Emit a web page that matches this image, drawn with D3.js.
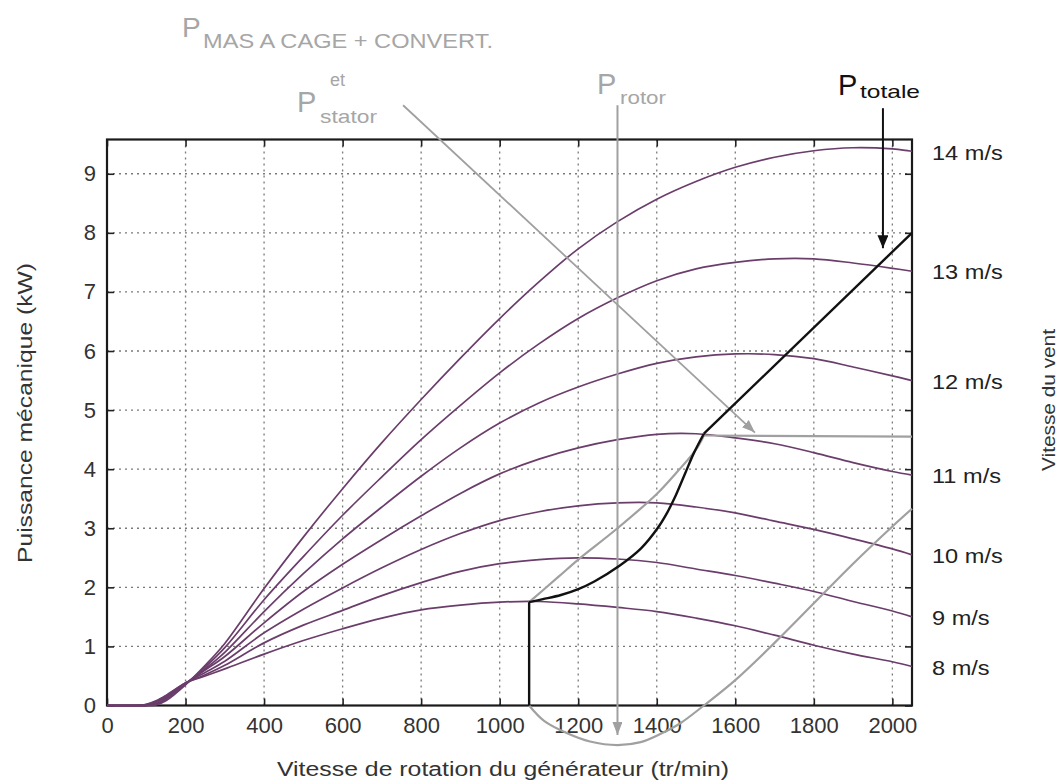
<!DOCTYPE html>
<html><head><meta charset="utf-8">
<script src="https://cdn.jsdelivr.net/npm/d3@7"></script>
<style>
body{margin:0;background:#fff}
svg{display:block}
text{font-family:"Liberation Sans",Arial,Helvetica,sans-serif}
</style>
</head><body>
<svg id="chart" width="1061" height="784"></svg>
<script>
// ---------- data ----------
const rpm = [0, 80, 100, 125, 150, 200, 250, 300, 400, 500, 600, 700, 800, 900, 1000, 1100, 1200, 1300, 1400, 1500, 1600, 1700, 1800, 1900, 2000, 2050];
const windLabels = ["8 m/s", "9 m/s", "10 m/s", "11 m/s", "12 m/s", "13 m/s", "14 m/s"];
const p8  = [0, 0, 0.02, 0.08, 0.17, 0.38, 0.50, 0.62, 0.87, 1.10, 1.30, 1.48, 1.62, 1.70, 1.75, 1.76, 1.72, 1.66, 1.59, 1.48, 1.35, 1.19, 1.02, 0.87, 0.74, 0.66];
const p9  = [0, 0, 0.015, 0.07, 0.16, 0.38, 0.52, 0.68, 1.06, 1.36, 1.61, 1.86, 2.08, 2.27, 2.40, 2.47, 2.50, 2.48, 2.42, 2.31, 2.20, 2.07, 1.93, 1.76, 1.60, 1.50];
const p10 = [0, 0, 0.01, 0.06, 0.15, 0.38, 0.56, 0.75, 1.23, 1.63, 1.99, 2.33, 2.64, 2.91, 3.13, 3.28, 3.38, 3.43, 3.43, 3.36, 3.26, 3.12, 2.98, 2.82, 2.65, 2.55];
const p11 = [0, 0, 0, 0.05, 0.14, 0.37, 0.60, 0.83, 1.40, 1.93, 2.39, 2.81, 3.21, 3.59, 3.92, 4.17, 4.36, 4.50, 4.59, 4.60, 4.53, 4.43, 4.28, 4.11, 3.96, 3.90];
const p12 = [0, 0, 0, 0.03, 0.12, 0.37, 0.62, 0.90, 1.59, 2.23, 2.82, 3.36, 3.88, 4.36, 4.78, 5.12, 5.39, 5.61, 5.79, 5.90, 5.95, 5.94, 5.87, 5.73, 5.58, 5.50];
const p13 = [0, 0, 0, 0.02, 0.10, 0.36, 0.65, 0.98, 1.79, 2.52, 3.22, 3.87, 4.50, 5.08, 5.63, 6.12, 6.55, 6.90, 7.19, 7.39, 7.50, 7.56, 7.56, 7.49, 7.40, 7.35];
const p14 = [0, 0, 0, 0.01, 0.08, 0.35, 0.68, 1.05, 1.98, 2.85, 3.67, 4.45, 5.18, 5.88, 6.55, 7.17, 7.73, 8.19, 8.57, 8.87, 9.11, 9.28, 9.39, 9.44, 9.42, 9.38];
const seriesP = [p8, p9, p10, p11, p12, p13, p14];

// P totale: vertical part, curved part, straight part
const pTotaleVert  = [[1075, 0], [1075, 1.75]];
const pTotaleCurve = [[1075, 1.75], [1110, 1.80], [1156, 1.87], [1200, 1.97], [1241, 2.10], [1306, 2.37], [1360, 2.66], [1402, 3.00], [1427, 3.27], [1448, 3.55], [1473, 3.94], [1495, 4.28], [1520, 4.60]];
const pTotaleLine  = [[1520, 4.60], [2050, 8.00]];
// P stator (and MAS a cage + convert.)
const pStatorCurve = [[1075, 1.75], [1150, 2.18], [1200, 2.47], [1300, 3.00], [1400, 3.58], [1450, 3.94], [1500, 4.33], [1520, 4.57]];
const pStatorFlat  = [[1520, 4.57], [2050, 4.55]];
// P rotor
const pRotor = [[1075, 0], [1113, -0.26], [1172, -0.47], [1230, -0.61], [1300, -0.67], [1359, -0.62], [1410, -0.48], [1460, -0.30], [1520, 0], [1600, 0.43], [1700, 1.06], [1800, 1.73], [1900, 2.40], [2000, 3.03], [2050, 3.33]];
// annotation arrows (data units)
const arrowRotor  = [[1300, 10.16], [1300, -0.50]];
const arrowStator = [[754, 10.16], [1650, 4.62]];
const arrowTotale = [[1976, 10.11], [1976, 7.74]];

const xTicks = [0, 200, 400, 600, 800, 1000, 1200, 1400, 1600, 1800, 2000];
const yTicks = [0, 1, 2, 3, 4, 5, 6, 7, 8, 9];
const xDomain = [0, 2050];
const yDomain = [0, 9.58];

// ---------- layout ----------
const L = 107, R = 912, T = 139.5, B = 705.5;
const svg = d3.select("#chart");
const x = d3.scaleLinear(xDomain, [L, R]);
const y = d3.scaleLinear(yDomain, [B, T]);

const purple = "#6b3d6b", gray = "#a0a0a0", grayText = "#a6a6a6", ink = "#111";

// arrow markers
const defs = svg.append("defs");
function marker(id, color, len, wid) {
  defs.append("marker").attr("id", id)
    .attr("viewBox", `0 0 ${len} ${wid}`).attr("refX", len).attr("refY", wid / 2)
    .attr("markerWidth", len).attr("markerHeight", wid)
    .attr("markerUnits", "userSpaceOnUse").attr("orient", "auto")
    .append("path").attr("d", `M0,0L${len},${wid / 2}L0,${wid}Z`).attr("fill", color);
}
marker("ahGray", gray, 13, 10);
marker("ahBlack", ink, 13, 11);

// grid
const grid = svg.append("g").attr("stroke", "#7a7a7a").attr("stroke-width", 1.3).attr("stroke-dasharray", "2,4");
grid.selectAll(".gx").data(xTicks.filter(d => d > 0)).join("line")
  .attr("x1", d => x(d)).attr("x2", d => x(d)).attr("y1", y(yDomain[0])).attr("y2", y(yDomain[1]));
grid.selectAll(".gy").data(yTicks.filter(d => d > 0)).join("line")
  .attr("y1", d => y(d)).attr("y2", d => y(d)).attr("x1", x(xDomain[0])).attr("x2", x(xDomain[1]));

// axes (ticks inside, mirrored like gnuplot)
function styleAxis(g) {
  g.select(".domain").remove();
  g.selectAll(".tick line").attr("stroke", "#222").attr("stroke-width", 1.6);
  g.selectAll(".tick text").attr("fill", "#333").style("font-size", "22px")
    .style("font-family", '"Liberation Sans",Arial,sans-serif');
}
svg.append("g").attr("transform", `translate(0,${B})`)
  .call(d3.axisBottom(x).tickValues(xTicks).tickSizeInner(-7).tickSizeOuter(0).tickPadding(12).tickFormat(d3.format("d")))
  .call(styleAxis);
svg.append("g").attr("transform", `translate(0,${T})`)
  .call(d3.axisTop(x).tickValues(xTicks).tickSizeInner(-7).tickSizeOuter(0).tickFormat(""))
  .call(styleAxis);
svg.append("g").attr("transform", `translate(${L},0)`)
  .call(d3.axisLeft(y).tickValues(yTicks).tickSizeInner(-7).tickSizeOuter(0).tickPadding(11).tickFormat(d3.format("d")))
  .call(styleAxis);
svg.append("g").attr("transform", `translate(${R},0)`)
  .call(d3.axisRight(y).tickValues(yTicks).tickSizeInner(-7).tickSizeOuter(0).tickFormat(""))
  .call(styleAxis);

// frame
svg.append("rect").attr("x", L).attr("y", T).attr("width", R - L).attr("height", B - T)
  .attr("fill", "none").attr("stroke", "#1a1a1a").attr("stroke-width", 2.2);

// wind power curves
const curveLine = d3.line().x((d, i) => x(rpm[i])).y(d => y(Math.max(0, d))).curve(d3.curveCatmullRom.alpha(0.5));
svg.append("g").selectAll("path").data(seriesP).join("path")
  .attr("d", d => curveLine(d)).attr("fill", "none").attr("stroke", purple).attr("stroke-width", 1.7);

// wind labels at the end of each curve
svg.append("g").selectAll("text").data(seriesP).join("text")
  .attr("transform", d => `translate(932,${y(d[d.length - 1])}) scale(1.15,1)`)
  .attr("dy", "0.4em").attr("fill", "#222").style("font-size", "20.5px")
  .text((d, i) => windLabels[i]);

const pl = d3.line().x(d => x(d[0])).y(d => y(d[1]));
const ps = d3.line().x(d => x(d[0])).y(d => y(d[1])).curve(d3.curveCatmullRom.alpha(0.5));

// gray: P rotor, P stator
svg.append("path").attr("d", ps(pRotor)).attr("fill", "none").attr("stroke", gray).attr("stroke-width", 2.2);
svg.append("path").attr("d", ps(pStatorCurve)).attr("fill", "none").attr("stroke", gray).attr("stroke-width", 2.2);
svg.append("path").attr("d", pl(pStatorFlat)).attr("fill", "none").attr("stroke", gray).attr("stroke-width", 2.2);

// gray arrows
svg.append("path").attr("d", pl(arrowRotor)).attr("fill", "none").attr("stroke", gray).attr("stroke-width", 2).attr("marker-end", "url(#ahGray)");
svg.append("path").attr("d", pl(arrowStator)).attr("fill", "none").attr("stroke", gray).attr("stroke-width", 1.8).attr("marker-end", "url(#ahGray)");

// black: P totale
svg.append("path").attr("d", pl(pTotaleVert)).attr("fill", "none").attr("stroke", ink).attr("stroke-width", 2.4);
svg.append("path").attr("d", ps(pTotaleCurve)).attr("fill", "none").attr("stroke", ink).attr("stroke-width", 2.4);
svg.append("path").attr("d", pl(pTotaleLine)).attr("fill", "none").attr("stroke", ink).attr("stroke-width", 2.4);
svg.append("path").attr("d", pl(arrowTotale)).attr("fill", "none").attr("stroke", ink).attr("stroke-width", 2).attr("marker-end", "url(#ahBlack)");

// ---------- text ----------
function label(px, py, str, o) {
  const t = svg.append("text").attr("x", px).attr("y", py).text(str)
    .attr("fill", o.fill || "#333").style("font-size", o.size + "px")
    .attr("text-anchor", o.anchor || "start");
  if (o.len) t.attr("textLength", o.len).attr("lengthAdjust", "spacingAndGlyphs");
  if (o.rotate) t.attr("transform", `rotate(${o.rotate},${px},${py})`);
  return t;
}
// axis titles
label(503, 776, "Vitesse de rotation du générateur (tr/min)", {size: 19.5, len: 452, anchor: "middle", fill: "#333"});
label(32, 413, "Puissance mécanique (kW)", {size: 20, len: 300, anchor: "middle", rotate: -90, fill: "#333"});
label(1055, 400, "Vitesse du vent", {size: 19, len: 142, anchor: "middle", rotate: -90, fill: "#333"});

// annotation labels
label(182, 37, "P", {size: 28, fill: grayText});
label(203, 48, "MAS A CAGE + CONVERT.", {size: 21, len: 290, fill: grayText});
label(330, 86, "et", {size: 18, fill: grayText});
label(297, 112, "P", {size: 29, fill: grayText});
label(320, 123, "stator", {size: 19, len: 57, fill: grayText});
label(597, 94, "P", {size: 29, fill: grayText});
label(620, 104, "rotor", {size: 19, len: 46, fill: grayText});
label(838, 95, "P", {size: 29, fill: "#111"});
label(860, 98, "totale", {size: 19, len: 60, fill: "#111"});
</script>
</body></html>
